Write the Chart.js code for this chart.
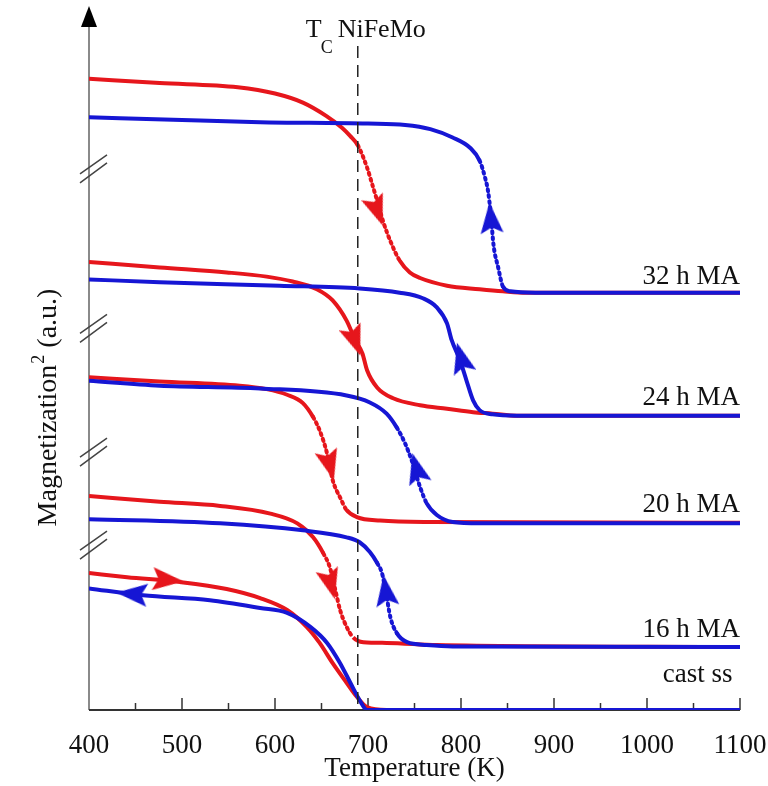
<!DOCTYPE html>
<html>
<head>
<meta charset="utf-8">
<script src="https://cdn.jsdelivr.net/npm/chart.js@4.4.0/dist/chart.umd.min.js"></script>
<style>
  html, body { margin: 0; padding: 0; background: #fff; }
  canvas { display: block; }
</style>
</head>
<body>
<canvas id="mtChart" width="768" height="786"></canvas>
<script>
// temperature (K) and stacked magnetization^2 (a.u.)
const heat32T = [400, 476, 560, 600, 630, 655, 672, 681, 689, 699, 705, 710, 716, 724, 734, 745, 756, 785, 820, 845, 870, 1100];
const heat32M = [90.3, 89.7, 89.1, 88.2, 86.9, 85.0, 83.3, 82.1, 80.8, 77.6, 75.0, 72.8, 70.0, 67.1, 64.3, 62.6, 61.8, 60.7, 60.2, 59.9, 59.7, 59.7];
const cool32T = [400, 500, 584, 700, 740, 767, 791, 810, 820, 826, 829, 832, 835, 840, 845, 853, 880, 1100];
const cool32M = [84.8, 84.4, 84.1, 83.9, 83.7, 83.1, 81.9, 80.4, 78.6, 76.1, 74.3, 71.0, 66.5, 63.3, 60.6, 59.9, 59.7, 59.7];

const heat24T = [400, 476, 548, 591, 619, 645, 662, 677, 686, 694, 699, 710, 727, 756, 785, 813, 834, 860, 1100];
const heat24M = [64.1, 63.3, 62.6, 62.0, 61.3, 60.2, 58.6, 55.7, 53.0, 51.0, 48.6, 46.1, 44.6, 43.6, 43.1, 42.6, 42.4, 42.1, 42.1];
const cool24T = [400, 476, 605, 691, 734, 759, 774, 785, 790, 799, 806, 813, 820, 834, 860, 1100];
const cool24M = [61.6, 61.2, 60.7, 60.3, 59.7, 58.9, 57.6, 55.3, 52.9, 50.0, 47.1, 44.3, 42.9, 42.3, 42.1, 42.1];

const heat20T = [400, 476, 562, 591, 613, 630, 641, 648, 656, 662, 670, 677, 688, 713, 767, 1100];
const heat20M = [47.6, 47.0, 46.4, 45.9, 45.1, 43.9, 41.9, 40.0, 36.7, 32.9, 30.4, 28.6, 27.6, 27.1, 26.9, 26.8];
const cool20T = [400, 476, 584, 677, 702, 720, 731, 740, 747, 756, 763, 774, 791, 820, 1100];
const cool20M = [47.1, 46.4, 46.0, 45.0, 44.0, 42.4, 40.4, 38.1, 35.7, 31.9, 29.6, 27.9, 26.9, 26.7, 26.7];

const heat16T = [400, 476, 541, 595, 624, 641, 652, 659, 665, 670, 677, 684, 695, 720, 774, 1100];
const heat16M = [30.6, 29.8, 29.2, 28.1, 26.7, 24.7, 22.4, 20.4, 17.1, 14.3, 11.9, 10.4, 9.7, 9.6, 9.3, 9.0];
const cool16T = [400, 541, 630, 677, 691, 702, 710, 715, 719, 724, 731, 742, 763, 791, 1100];
const cool16M = [27.3, 26.7, 25.7, 24.7, 24.0, 22.6, 21.0, 19.6, 17.1, 13.3, 11.0, 9.7, 9.3, 9.1, 9.0];

const heatCastT = [400, 441, 498, 548, 584, 613, 634, 648, 662, 677, 688, 699, 720, 1100];
const heatCastM = [19.6, 19.0, 18.3, 17.3, 16.0, 14.3, 11.9, 9.6, 6.7, 3.9, 1.9, 0.4, 0, 0];
const coolCastT = [400, 458, 530, 584, 613, 638, 656, 670, 681, 691, 699, 1100];
const coolCastM = [17.4, 16.4, 15.7, 14.6, 13.9, 11.9, 9.6, 6.7, 3.9, 1.4, 0, 0];

// direction arrows (heating = red, cooling = blue)
const heatArrowT = [710, 686, 659, 660, 485];
const heatArrowM = [71.4, 52.8, 35.0, 18.0, 18.6];
const heatArrowRot = [160, 160, 165, 165, 95];
const coolArrowT = [832, 800, 752, 719, 446];
const coolArrowM = [70.4, 50.4, 34.6, 17.1, 16.6];
const coolArrowRot = [355, 345, 345, 352, 275];

const curveLabels = ['32 h MA', '24 h MA', '20 h MA', '16 h MA', 'cast ss'];
const labelT = [1100, 1100, 1100, 1100, 1092];
const labelM = [61.0, 43.6, 28.3, 10.4, 4.0];

const tcTemp = 689;
const breakM = [77.4, 54.6, 36.9, 23.6];

const RED = 'rgb(230,22,28)';
const BLUE = 'rgb(22,22,212)';
const SERIF = "'Liberation Serif', 'Times New Roman', serif";

const pts = (t, m) => t.map((v, i) => ({ x: v, y: m[i] }));

function arrowImg(color) {
    const c = document.createElement('canvas');
    c.width = 23; c.height = 31;
    const g = c.getContext('2d');
    g.fillStyle = color;
    g.beginPath();
    g.moveTo(11.5, 0);
    g.lineTo(23, 31);
    g.lineTo(11.5, 25);
    g.lineTo(0, 31);
    g.closePath();
    g.fill();
    return c;
}

// steep parts of the measured curves show up as separate dots
const steep = ctx => Math.abs(ctx.p1.y - ctx.p0.y) > 1.6 * Math.abs(ctx.p1.x - ctx.p0.x);
const dotted = {
    borderDash: ctx => steep(ctx) ? [2, 4] : undefined,
    borderCapStyle: ctx => steep(ctx) ? 'round' : 'butt'
};

function curve(t, m, color, isDotted, order) {
    return {
        data: pts(t, m),
        borderColor: color,
        borderWidth: 4,
        pointRadius: 0,
        cubicInterpolationMode: 'monotone',
        segment: isDotted ? dotted : undefined,
        order: order
    };
}

const axesPlugin = {
    id: 'axesPlugin',
    beforeDatasetsDraw(chart) {
        const { ctx, chartArea: a, scales: { x, y } } = chart;
        ctx.save();
        // y axis with arrow head
        ctx.strokeStyle = '#8a8a8a';
        ctx.lineWidth = 2;
        ctx.beginPath();
        ctx.moveTo(a.left, a.bottom);
        ctx.lineTo(a.left, 26);
        ctx.stroke();
        ctx.fillStyle = '#000';
        ctx.beginPath();
        ctx.moveTo(a.left, 6);
        ctx.lineTo(a.left + 8, 27);
        ctx.lineTo(a.left - 8, 27);
        ctx.closePath();
        ctx.fill();
        // axis breaks
        ctx.strokeStyle = '#444';
        ctx.lineWidth = 1.5;
        breakM.forEach(v => {
            const c = y.getPixelForValue(v);
            ctx.beginPath();
            ctx.moveTo(a.left - 9, c + 5); ctx.lineTo(a.left + 18, c - 14);
            ctx.moveTo(a.left - 9, c + 14); ctx.lineTo(a.left + 18, c - 6);
            ctx.stroke();
        });
        // x axis line and inward ticks
        ctx.strokeStyle = '#333';
        ctx.lineWidth = 2;
        ctx.beginPath();
        ctx.moveTo(a.left, a.bottom);
        ctx.lineTo(a.right, a.bottom);
        ctx.stroke();
        ctx.lineWidth = 1.5;
        for (let t = 450; t <= 1100; t += 50) {
            const px = x.getPixelForValue(t);
            const len = t % 100 === 0 ? 12 : 7;
            ctx.beginPath();
            ctx.moveTo(px, a.bottom);
            ctx.lineTo(px, a.bottom - len);
            ctx.stroke();
        }
        ctx.restore();
    },
    afterDraw(chart) {
        const { ctx, scales: { x, y } } = chart;
        ctx.save();
        ctx.fillStyle = '#111';
        // curve labels
        ctx.font = '27px ' + SERIF;
        ctx.textAlign = 'right';
        ctx.textBaseline = 'alphabetic';
        curveLabels.forEach((s, i) => {
            ctx.fillText(s, x.getPixelForValue(labelT[i]), y.getPixelForValue(labelM[i]));
        });
        // T_C NiFeMo
        ctx.textAlign = 'left';
        const tx = x.getPixelForValue(tcTemp) - 52;
        ctx.font = '26px ' + SERIF;
        ctx.fillText('T', tx, 37);
        const wT = ctx.measureText('T').width;
        ctx.font = '18px ' + SERIF;
        ctx.fillText('C', tx + wT - 1, 53);
        const wC = ctx.measureText('C').width;
        ctx.font = '26px ' + SERIF;
        ctx.fillText('NiFeMo', tx + wT + wC + 4, 37);
        // y title with superscript
        ctx.translate(56, 408);
        ctx.rotate(-Math.PI / 2);
        ctx.font = '28px ' + SERIF;
        const w1 = ctx.measureText('Magnetization').width;
        const w3 = ctx.measureText(' (a.u.)').width;
        ctx.font = '18px ' + SERIF;
        const w2 = ctx.measureText('2').width;
        const sx = -(w1 + w2 + w3) / 2;
        ctx.font = '28px ' + SERIF;
        ctx.fillText('Magnetization', sx, 0);
        ctx.font = '18px ' + SERIF;
        ctx.fillText('2', sx + w1 + 1, -12);
        ctx.font = '28px ' + SERIF;
        ctx.fillText(' (a.u.)', sx + w1 + w2 + 1, 0);
        ctx.restore();
    }
};

const ctx = document.getElementById('mtChart').getContext('2d');

new Chart(ctx, {
    type: 'line',
    data: {
        datasets: [
            {
                data: pts(heatArrowT, heatArrowM),
                showLine: false,
                pointStyle: arrowImg(RED),
                pointRadius: 10,
                pointRotation: heatArrowRot,
                order: 0
            },
            {
                data: pts(coolArrowT, coolArrowM),
                showLine: false,
                pointStyle: arrowImg(BLUE),
                pointRadius: 10,
                pointRotation: coolArrowRot,
                order: 0
            },
            {
                data: [{ x: tcTemp, y: 95 }, { x: tcTemp, y: 0 }],
                borderColor: '#222',
                borderWidth: 1.5,
                borderDash: [12, 7],
                pointRadius: 0,
                order: 1
            },
            curve(cool32T, cool32M, BLUE, true, 2),
            curve(cool24T, cool24M, BLUE, false, 2),
            curve(cool20T, cool20M, BLUE, true, 2),
            curve(cool16T, cool16M, BLUE, true, 2),
            curve(coolCastT, coolCastM, BLUE, false, 2),
            curve(heat32T, heat32M, RED, true, 3),
            curve(heat24T, heat24M, RED, false, 3),
            curve(heat20T, heat20M, RED, true, 3),
            curve(heat16T, heat16M, RED, true, 3),
            curve(heatCastT, heatCastM, RED, false, 3)
        ]
    },
    options: {
        responsive: false,
        animation: false,
        layout: { padding: { left: 89, right: 28, top: 10, bottom: 0 } },
        plugins: {
            legend: { display: false },
            tooltip: { enabled: false }
        },
        scales: {
            x: {
                type: 'linear',
                min: 400,
                max: 1100,
                grid: { display: false },
                border: { display: false },
                ticks: {
                    stepSize: 100,
                    padding: 12,
                    color: '#111',
                    font: { family: SERIF, size: 27 },
                    callback: v => String(v)
                },
                title: {
                    display: true,
                    text: 'Temperature (K)',
                    color: '#111',
                    padding: { top: 0, bottom: 1 },
                    font: { family: SERIF, size: 27 }
                },
                afterFit(scale) {
                    scale.height = 76;
                    scale.paddingLeft = 0;
                    scale.paddingRight = 0;
                }
            },
            y: {
                display: false,
                min: 0,
                max: 100
            }
        }
    },
    plugins: [axesPlugin]
});
</script>
</body>
</html>
